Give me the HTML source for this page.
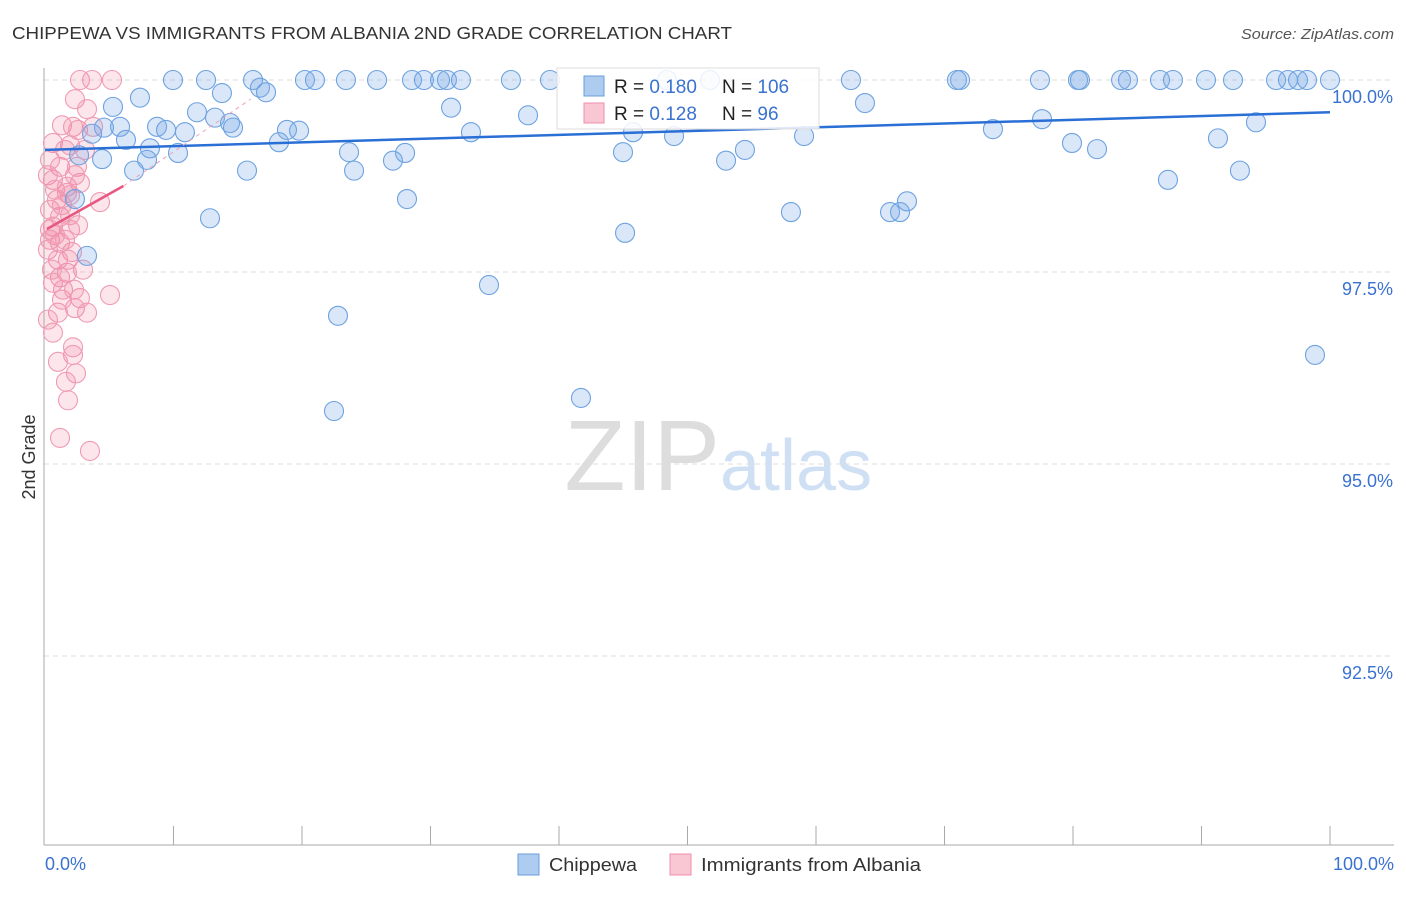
<!DOCTYPE html>
<html><head><meta charset="utf-8"><style>
body{margin:0;background:#fff;font-family:"Liberation Sans",sans-serif}
svg text{font-family:"Liberation Sans",sans-serif}
</style></head><body>
<svg id="c" width="1406" height="892">
<text x="12" y="39" font-size="17.5" fill="#333" textLength="720" lengthAdjust="spacingAndGlyphs">CHIPPEWA VS IMMIGRANTS FROM ALBANIA 2ND GRADE CORRELATION CHART</text>
<text x="1394" y="39" font-size="15" fill="#555" text-anchor="end" font-style="italic" textLength="153" lengthAdjust="spacingAndGlyphs">Source: ZipAtlas.com</text>
<text x="35" y="457" font-size="18" fill="#333" transform="rotate(-90 35 457)" text-anchor="middle">2nd Grade</text>
<text x="720" y="490" font-size="100" fill="#ddd" text-anchor="end" font-family="Liberation Serif">ZIP</text>
<text x="720" y="490" font-size="72" fill="#cfe0f4">atlas</text>
<g id="grid"></g><g id="pts"></g><g id="lines"></g>
<g>
<rect x="557" y="68" width="262" height="61" fill="#fff" fill-opacity="0.85" stroke="#ddd"/>
<rect x="584" y="76" width="20" height="20" fill="#aecbf0" stroke="#6a9fdc"/>
<text x="614" y="93" font-size="19" fill="#222">R = <tspan fill="#3a72d0">0.180</tspan></text>
<text x="722" y="93" font-size="19" fill="#222">N = <tspan fill="#3a72d0">106</tspan></text>
<rect x="584" y="103" width="20" height="20" fill="#f9c6d4" stroke="#ef8fab"/>
<text x="614" y="120" font-size="19" fill="#222">R = <tspan fill="#3a72d0"> 0.128</tspan></text>
<text x="722" y="120" font-size="19" fill="#222">N = <tspan fill="#3a72d0">  96</tspan></text>
</g>
<g>
<rect x="518" y="854" width="21" height="21" fill="#aecbf0" stroke="#6a9fdc"/>
<text x="549" y="871" font-size="18" fill="#333" textLength="88" lengthAdjust="spacingAndGlyphs">Chippewa</text>
<rect x="670" y="854" width="21" height="21" fill="#f9c6d4" stroke="#ef8fab"/>
<text x="701" y="871" font-size="18" fill="#333" textLength="220" lengthAdjust="spacingAndGlyphs">Immigrants from Albania</text>
</g>
<text x="45" y="870" font-size="18" fill="#3a72d0">0.0%</text>
<text x="1394" y="870" font-size="18" fill="#3a72d0" text-anchor="end">100.0%</text>
</svg>
<script>
const yTicks=[100,97.5,95,92.5];
const yTickLabels=["100.0%","97.5%","95.0%","92.5%"];
const xTicks=[10,20,30,40,50,60,70,80,90,100];
const blueX=[9.96,12.53,16.19,20.23,21.01,23.42,25.84,28.56,29.49,30.74,31.28,32.37,36.26,39.30,48.40,51.75,62.72,70.97,71.21,77.43,80.39,80.54,83.74,84.28,86.77,87.78,90.35,92.45,95.80,96.73,97.51,98.21,100,
5.29,7.39,13.77,16.73,17.20,11.83,13.23,14.40,14.63,10.89,8.72,9.42,5.84,4.59,3.66,6.30,8.17,10.35,7.94,4.44,6.93,2.65,2.33,3.27,12.84,15.72,18.21,18.83,19.77,23.66,24.05,27.08,28.02,28.17,31.60,33.15,37.59,34.55,22.80,22.49,41.71,45.14,44.98,45.76,48.95,53.00,54.47,58.05,59.07,63.81,65.76,66.54,67.08,73.77,77.59,79.92,81.87,87.39,91.28,92.99,94.24,98.83];
const blueY=[100,100,100,100,100,100,100,100,100,100,100,100,100,100,100,100,100,100,100,100,100,100,100,100,100,100,100,100,100,100,100,100,100,
99.65,99.77,99.83,99.90,99.84,99.58,99.51,99.44,99.38,99.32,99.39,99.35,99.39,99.38,99.30,99.22,99.11,99.05,98.96,98.97,98.82,99.02,98.45,97.71,98.20,98.82,99.19,99.35,99.34,99.06,98.82,98.95,99.05,98.45,99.64,99.32,99.54,97.33,96.93,95.69,95.86,98.01,99.06,99.32,99.27,98.95,99.09,98.28,99.27,99.70,98.28,98.28,98.42,99.36,99.49,99.18,99.10,98.70,99.24,98.82,99.45,96.42];
const pinkX=[2.72,3.66,5.21,2.33,3.27,1.32,2.18,2.57,3.74,0.62,1.95,0.39,1.17,2.49,0.62,1.71,2.72,0.93,1.71,4.28,0.39,1.17,0.62,1.95,0.39,1.17,2.10,2.96,1.17,1.71,0.62,1.40,5.06,2.72,2.33,3.27,1.01,0.62,2.18,2.18,1.01,2.41,1.63,1.79,1.17,3.50,
0.23,0.78,1.32,0.39,0.78,1.56,0.23,1.01,1.95,2.33,3.11,1.56,1.95,0.54,1.32,2.26,2.57,0.23,1.79];
const pinkY=[100,100,100,99.75,99.62,99.41,99.39,99.35,99.39,99.18,99.15,98.96,98.87,98.87,98.70,98.61,98.66,98.44,98.53,98.41,98.31,98.22,98.09,98.05,97.92,97.88,97.76,97.53,97.43,97.49,97.36,97.27,97.20,97.16,97.03,96.97,96.97,96.71,96.52,96.42,96.33,96.18,96.07,95.83,95.34,95.17,
98.76,98.57,98.37,98.05,97.98,97.92,97.79,97.66,98.24,98.76,99.09,99.09,98.50,97.53,97.14,97.27,98.11,96.88,97.66];
const blueTrend=[[0,99.09],[100,99.58]];
const pinkTrend=[[0.15,98.06],[6.1,98.62]];
const pinkDash=[[6.1,98.62],[16,99.75]];
const X=v=>45+v*12.85, Y=v=>80+(100-v)*76.8;
const NS="http://www.w3.org/2000/svg";
function mk(t,a,p){const e=document.createElementNS(NS,t);for(const k in a)e.setAttribute(k,a[k]);p.appendChild(e);return e;}
const g=document.getElementById('grid');
yTicks.forEach((t,i)=>{
 const l=mk('line',{x1:44,x2:1394,y1:Y(t),y2:Y(t),stroke:'#ddd','stroke-dasharray':'5,4'},g);
 
 
 const tx=mk('text',{x:1393,y:Y(t)+23,'font-size':18,fill:'#3a72d0','text-anchor':'end'},g);
 tx.textContent=yTickLabels[i];
 
 
});
const ax=mk('line',{x1:44,x2:44,y1:68,y2:845,stroke:'#aaa'},g);


const bx=mk('line',{x1:44,x2:1394,y1:845,y2:845,stroke:'#aaa'},g);


xTicks.forEach(t=>{
 const l=mk('line',{x1:X(t),x2:X(t),y1:826,y2:845,stroke:'#aaa'},g);
 
 
});
const P=document.getElementById('pts');
pinkX.forEach((x,i)=>{
 const c=mk('circle',{cx:X(x),cy:Y(pinkY[i]),r:9.5,fill:'rgba(240,130,160,0.2)',stroke:'#f09ab3','stroke-width':1.1},P);
 
 
});
blueX.forEach((x,i)=>{
 const c=mk('circle',{cx:X(x),cy:Y(blueY[i]),r:9.5,fill:'rgba(120,170,230,0.28)',stroke:'#6ea2e0','stroke-width':1.1},P);
 
 
});
const L=document.getElementById('lines');
const bt=mk('line',{x1:X(blueTrend[0][0]),y1:Y(blueTrend[0][1]),x2:X(blueTrend[1][0]),y2:Y(blueTrend[1][1]),stroke:'#2a6fd6','stroke-width':2.5},L);


const pd=mk('line',{x1:X(pinkDash[0][0]),y1:Y(pinkDash[0][1]),x2:X(pinkDash[1][0]),y2:Y(pinkDash[1][1]),stroke:'#f0a0b8','stroke-width':1,'stroke-dasharray':'4,4'},L);


const pt=mk('line',{x1:X(pinkTrend[0][0]),y1:Y(pinkTrend[0][1]),x2:X(pinkTrend[1][0]),y2:Y(pinkTrend[1][1]),stroke:'#e8577f','stroke-width':2.5},L);


</script>
</body></html>
